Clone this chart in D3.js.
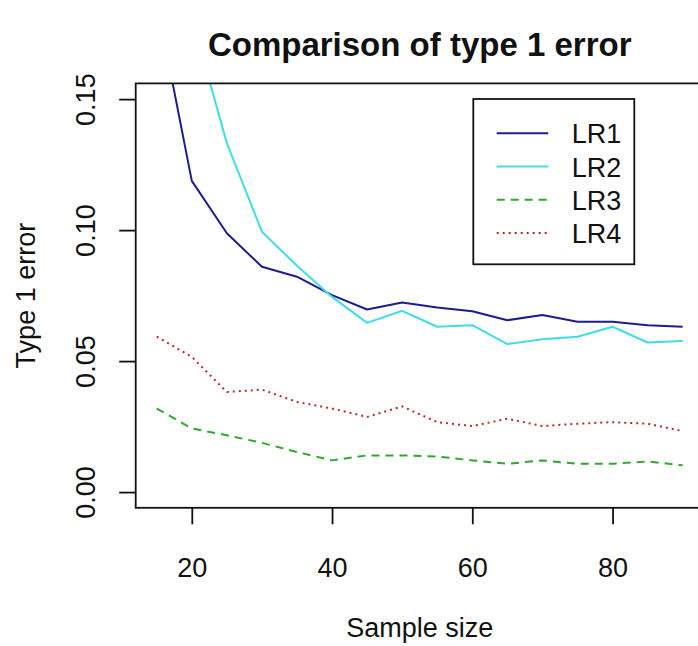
<!DOCTYPE html>
<html>
<head>
<meta charset="utf-8">
<script src="https://cdn.jsdelivr.net/npm/d3@7/dist/d3.min.js"></script>
<style>
  html, body { margin: 0; padding: 0; background: #ffffff; }
  svg { display: block; }
  text { font-family: "Liberation Sans", Arial, sans-serif; fill: #111; }
</style>
</head>
<body>
<svg id="chart" width="698" height="646"></svg>
<script>
// ---- data ----
const sampleSizes = [15, 20, 25, 30, 35, 40, 45, 50, 55, 60, 65, 70, 75, 80, 85, 90];
const lr1 = [0.187, 0.1188, 0.0988, 0.0860, 0.0822, 0.0752, 0.0697, 0.0724, 0.0705, 0.0690, 0.0656, 0.0676, 0.0650, 0.0650, 0.0637, 0.0631];
const lr2 = [0.230, 0.1810, 0.1332, 0.0994, 0.0864, 0.0745, 0.0646, 0.0692, 0.0631, 0.0637, 0.0565, 0.0583, 0.0593, 0.0631, 0.0571, 0.0577];
const lr3 = [0.0319, 0.0243, 0.0217, 0.0188, 0.0153, 0.0121, 0.0140, 0.0140, 0.0136, 0.0121, 0.0108, 0.0121, 0.0108, 0.0108, 0.0117, 0.0102];
const lr4 = [0.0593, 0.0516, 0.0382, 0.0391, 0.0344, 0.0319, 0.0287, 0.0327, 0.0267, 0.0252, 0.0280, 0.0252, 0.0261, 0.0267, 0.0261, 0.0233];
const seriesNames = ["LR1", "LR2", "LR3", "LR4"];
const xTicks = [20, 40, 60, 80];
const yTicks = [0.00, 0.05, 0.10, 0.15];
const yTickLabels = ["0.00", "0.05", "0.10", "0.15"];
const titleText = "Comparison of type 1 error";
const xLabel = "Sample size";
const yLabel = "Type 1 error";

(function () {
  // ---- styles ----
  const styles = [
    { color: "#1c1c94", dash: null },
    { color: "#3fdde6", dash: null },
    { color: "#2ea82e", dash: "8,6" },
    { color: "#b22a2a", dash: "2,4" }
  ];
  const seriesValues = [lr1, lr2, lr3, lr4];

  // ---- layout ----
  const pL = 135.7, pR = 703.7, pT = 83.4, pB = 507.8;
  const svg = d3.select("#chart");

  const x = d3.scaleLinear().domain([12, 93]).range([pL, pR]);
  const y = d3.scaleLinear().domain([-0.006, 0.156]).range([pB, pT]);

  svg.append("defs").append("clipPath").attr("id", "plotclip")
    .append("rect").attr("x", pL).attr("y", pT)
    .attr("width", pR - pL).attr("height", pB - pT);

  const line = d3.line().x(d => x(d[0])).y(d => y(d[1]));
  const g = svg.append("g").attr("clip-path", "url(#plotclip)");
  seriesValues.forEach((vals, i) => {
    const pts = sampleSizes.map((s, j) => [s, vals[j]]);
    g.append("path").datum(pts)
      .attr("d", line)
      .attr("fill", "none")
      .attr("stroke", styles[i].color)
      .attr("stroke-width", 2)
      .attr("stroke-dasharray", styles[i].dash)
      .attr("stroke-linejoin", "round");
  });

  svg.append("rect").attr("x", pL).attr("y", pT)
    .attr("width", pR - pL).attr("height", pB - pT)
    .attr("fill", "none").attr("stroke", "#111").attr("stroke-width", 1.8);

  const xAxis = d3.axisBottom(x).tickValues(xTicks).tickSize(16.5).tickSizeOuter(0).tickPadding(0)
    .tickFormat(d3.format("d"));
  const xg = svg.append("g").attr("transform", `translate(0,${pB})`).call(xAxis);
  xg.select(".domain").remove();
  xg.selectAll(".tick line").attr("stroke", "#111").attr("stroke-width", 1.8);
  xg.selectAll(".tick text")
    .attr("y", 69).attr("dy", null)
    .style("font-family", "'Liberation Sans', Arial, sans-serif")
    .style("font-size", "27px").attr("fill", "#111");

  const yAxis = d3.axisLeft(y).tickValues(yTicks).tickSize(16.5).tickSizeOuter(0).tickPadding(0)
    .tickFormat((d, i) => yTickLabels[i]);
  const yg = svg.append("g").attr("transform", `translate(${pL},0)`).call(yAxis);
  yg.select(".domain").remove();
  yg.selectAll(".tick line").attr("stroke", "#111").attr("stroke-width", 1.8);
  yg.selectAll(".tick text")
    .attr("x", null).attr("dy", null)
    .attr("text-anchor", "middle")
    .attr("transform", "translate(-41,0) rotate(-90)")
    .style("font-family", "'Liberation Sans', Arial, sans-serif")
    .style("font-size", "27px").attr("fill", "#111");

  svg.append("text").attr("x", (pL + pR) / 2).attr("y", 56)
    .attr("text-anchor", "middle")
    .style("font-size", "33px").style("font-weight", "bold")
    .text(titleText);

  svg.append("text").attr("x", (pL + pR) / 2).attr("y", 637)
    .attr("text-anchor", "middle").style("font-size", "27px")
    .text(xLabel);

  svg.append("text")
    .attr("transform", `translate(35,${(pT + pB) / 2}) rotate(-90)`)
    .attr("text-anchor", "middle").style("font-size", "27px")
    .text(yLabel);

  const lg = svg.append("g");
  lg.append("rect").attr("x", 473.3).attr("y", 99).attr("width", 161).attr("height", 165.3)
    .attr("fill", "#fff").attr("stroke", "#111").attr("stroke-width", 1.8);
  seriesNames.forEach((name, i) => {
    const ry = 133.3 + i * 33.2;
    lg.append("line").attr("x1", 496.7).attr("x2", 548.3).attr("y1", ry).attr("y2", ry)
      .attr("stroke", styles[i].color).attr("stroke-width", 2)
      .attr("stroke-dasharray", styles[i].dash);
    lg.append("text").attr("x", 571.7).attr("y", ry + 10)
      .style("font-size", "27px").text(name);
  });
})();
</script>
</body>
</html>
